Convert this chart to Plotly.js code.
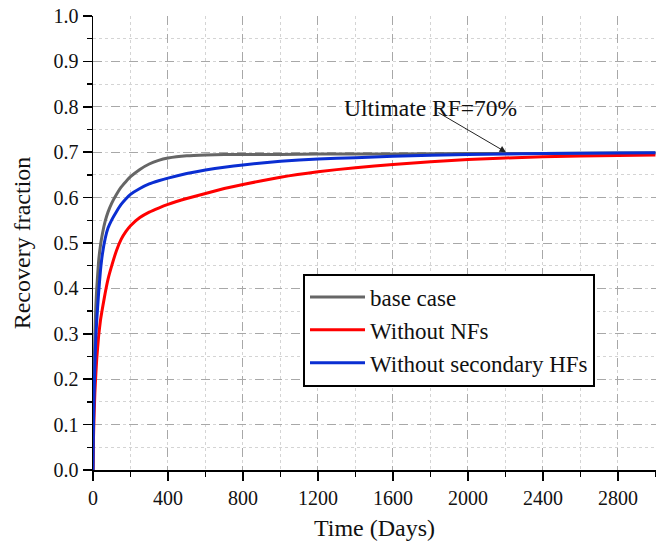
<!DOCTYPE html>
<html>
<head>
<meta charset="utf-8">
<script src="https://cdn.plot.ly/plotly-3.0.1.min.js"></script>
<style>html,body{margin:0;padding:0;background:#fff;}#chart{width:656px;height:546px;}</style>
</head>
<body>
<div id="chart"></div>
<script>
const timeDays      = [0, 2, 5, 10, 15, 20, 30, 40, 50, 65, 80, 100, 125, 150, 175, 200, 250, 300, 350, 400, 500, 600, 700, 800, 1000, 1200, 1400, 1600, 2000, 2400, 2800, 3000];
const baseCase      = [0, 0.10, 0.20, 0.295, 0.36, 0.40, 0.46, 0.495, 0.52, 0.548, 0.568, 0.588, 0.607, 0.623, 0.635, 0.646, 0.662, 0.674, 0.682, 0.687, 0.692, 0.694, 0.695, 0.695, 0.695, 0.696, 0.696, 0.696, 0.697, 0.697, 0.698, 0.698];
const withoutNFs    = [0, 0.06, 0.11, 0.17, 0.21, 0.245, 0.295, 0.33, 0.355, 0.39, 0.42, 0.45, 0.483, 0.508, 0.525, 0.538, 0.556, 0.568, 0.577, 0.585, 0.598, 0.609, 0.620, 0.629, 0.645, 0.657, 0.666, 0.673, 0.684, 0.690, 0.693, 0.694];
const withoutSecHFs = [0, 0.08, 0.15, 0.23, 0.29, 0.33, 0.39, 0.44, 0.475, 0.51, 0.533, 0.551, 0.569, 0.585, 0.597, 0.607, 0.620, 0.630, 0.637, 0.643, 0.653, 0.661, 0.667, 0.672, 0.680, 0.685, 0.688, 0.691, 0.695, 0.697, 0.698, 0.699];
const seriesNames = ["base case", "Without NFs", "Without secondary HFs"];
const xTicks = [0, 400, 800, 1200, 1600, 2000, 2400, 2800];
const yTicks = [0, 0.1, 0.2, 0.3, 0.4, 0.5, 0.6, 0.7, 0.8, 0.9, 1.0];
const annotText = "Ultimate RF=70%";
const annotPoint = [2203, 0.700];
const annotTail = [1835, 0.789];

const FONT = "Liberation Serif, Times New Roman, serif";
const X_RANGE = [0, 3003];
const mk = (y, name, color) => ({
  x: timeDays, y: y, name: name, type: "scatter", mode: "lines",
  line: {color: color, width: 3, shape: "spline", smoothing: 0.4},
  hoverinfo: "skip"
});
const data = [
  mk(baseCase, seriesNames[0], "#666666"),
  mk(withoutNFs, seriesNames[1], "#ff0000"),
  mk(withoutSecHFs, seriesNames[2], "#0a2ed2")
];
const axCommon = () => ({
  showline: true, linecolor: "#000", linewidth: 1.5, zeroline: false,
  showgrid: true, gridcolor: "#a8a8a8", gridwidth: 1, griddash: "dash",
  ticks: "outside", ticklen: 9, tickwidth: 1.5, tickcolor: "#000",
  tickfont: {family: FONT, size: 20, color: "#111"}
});
const layout = {
  width: 656, height: 546,
  font: {family: FONT, size: 20, color: "#111"},
  margin: {l: 93, r: 0, t: 16, b: 76},
  paper_bgcolor: "#fff", plot_bgcolor: "#fff",
  showlegend: true,
  xaxis: Object.assign(axCommon(), {
    range: X_RANGE, tickvals: xTicks, ticktext: xTicks.map(String),
    minor: {dtick: 200, tick0: 0, ticks: "outside", ticklen: 5, tickwidth: 1.5, tickcolor: "#000", showgrid: true, gridcolor: "#d4d4d4", griddash: "dot", gridwidth: 1},
    title: {text: "Time (Days)", font: {family: FONT, size: 24, color: "#111"}, standoff: 11}
  }),
  yaxis: Object.assign(axCommon(), {
    range: [0, 1], tickvals: yTicks, ticktext: yTicks.map(v => v.toFixed(1)),
    minor: {dtick: 0.05, tick0: 0, ticks: "outside", ticklen: 5, tickwidth: 1.5, tickcolor: "#000", showgrid: true, gridcolor: "#d4d4d4", griddash: "dot", gridwidth: 1},
    title: {text: "Recovery fraction", font: {family: FONT, size: 24, color: "#111"}, standoff: 16}
  }),
  xaxis2: {
    overlaying: "x", side: "top", anchor: "y", range: X_RANGE, tickvals: xTicks,
    showticklabels: false, showline: true, linecolor: "#000", linewidth: 1.5,
    ticks: "inside", ticklen: 8, tickwidth: 1.5, tickcolor: "#000", showgrid: false, zeroline: false,
    minor: {dtick: 200, tick0: 0, ticks: "inside", ticklen: 4, tickwidth: 1.5, tickcolor: "#000"}
  },
  yaxis2: {
    overlaying: "y", side: "right", anchor: "x", range: [0, 1], tickvals: yTicks,
    showticklabels: false, showline: false,
    ticks: "inside", ticklen: 8, tickwidth: 1.5, tickcolor: "#000", showgrid: false, zeroline: false,
    minor: {dtick: 0.05, tick0: 0, ticks: "inside", ticklen: 4, tickwidth: 1.5, tickcolor: "#000"}
  },
  legend: {
    x: (303 - 93) / 563, y: (470 - 330) / 454, xanchor: "left", yanchor: "middle",
    bordercolor: "#000", borderwidth: 2, bgcolor: "#fff",
    font: {family: FONT, size: 23, color: "#111"},
    itemwidth: 55, tracegroupgap: 0
  },
  annotations: [{
    x: annotPoint[0], y: annotPoint[1], xref: "x", yref: "y",
    ax: annotTail[0], ay: annotTail[1], axref: "x", ayref: "y",
    text: "", showarrow: true, arrowhead: 2, arrowsize: 1.3, arrowwidth: 1, arrowcolor: "#222"
  }, {
    x: (430 - 93) / 563, y: (470 - 93) / 454, xref: "paper", yref: "paper", text: annotText, showarrow: false,
    font: {family: FONT, size: 23.5, color: "#111"}
  }]
};
Plotly.newPlot("chart", data, layout, {staticPlot: true, displayModeBar: false});
</script>
</body>
</html>
